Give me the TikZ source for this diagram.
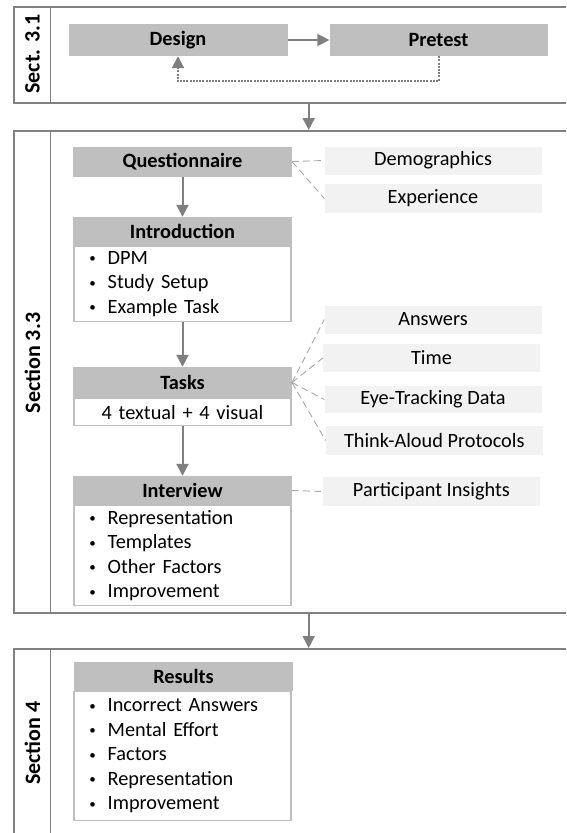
\documentclass[tikz,border=0pt]{standalone}
\usepackage{fontspec}
\setmainfont{Carlito}
\usetikzlibrary{arrows.meta}
\definecolor{hdr}{HTML}{BFBFBF}
\definecolor{lite}{HTML}{F2F2F2}
\definecolor{pan}{HTML}{808080}
\definecolor{arrc}{HTML}{7F7F7F}
\definecolor{bodyline}{HTML}{BFBFBF}
\definecolor{dashc}{HTML}{A6A6A6}
\newcommand\myitem[1]{\hspace*{15.4pt}\makebox[18.3pt][l]{\raisebox{1.6pt}{\fontsize{13}{13}\selectfont\textbullet}}#1}
\tikzset{
  panel/.style={draw=pan, line width=1.6pt, inner sep=0pt, anchor=north west},
  seclabel/.style={font=\fontsize{22}{26}\selectfont\bfseries, rotate=90, inner sep=0pt},
  hdrbox/.style={fill=hdr, inner sep=0pt, minimum width=218.5pt, minimum height=30pt, font=\fontsize{20.3}{24.5}\selectfont\bfseries},
  bodybox/.style={draw=bodyline, line width=1.2pt, fill=white, inner sep=0pt, minimum width=217pt, text width=217pt, anchor=north, align=left, font=\fontsize{20.3}{24.5}\selectfont},
  litebox/.style={fill=lite, inner sep=0pt, minimum width=217pt, minimum height=28pt, font=\fontsize{20.3}{24.5}\selectfont},
  flow/.style={draw=arrc, line width=2pt, -{Triangle[length=12pt,width=12pt]}},
  feedback/.style={draw=arrc, line width=2pt, dash pattern=on 2pt off 1.2pt, -{Triangle[length=12pt,width=12pt]}},
  dashlink/.style={draw=dashc, line width=0.9pt, dash pattern=on 7pt off 4pt}
}
\begin{document}
\begin{tikzpicture}[x=1pt,y=-1pt]
\useasboundingbox (0,0) rectangle (566,833);
\clip (0,0) rectangle (566,833);
\fill[white] (0,0) rectangle (566,833);

% panels
\node[panel, minimum width=580pt, minimum height=96pt] (p1) at (13,6) {};
\node[panel, minimum width=36.5pt, minimum height=96pt] (l1) at (13,6) {};
\node[panel, minimum width=580pt, minimum height=482pt] (p2) at (13,130) {};
\node[panel, minimum width=36.5pt, minimum height=482pt] (l2) at (13,130) {};
\node[panel, minimum width=580pt, minimum height=210pt] (p3) at (13,648) {};
\node[panel, minimum width=36.5pt, minimum height=210pt] (l3) at (13,648) {};

\node[seclabel] (s1) at (32.5,54) {Sect. 3.1};
\node[seclabel] (s2) at (32.5,363) {Section 3.3};
\node[seclabel] (s3) at (32.5,743) {Section 4};

% section 3.1
\node[hdrbox, minimum width=219pt, minimum height=32pt] (design) at (178,40) {Design};
\node[hdrbox, minimum width=218pt, minimum height=32pt] (pretest) at (438.5,40) {Pretest};
\draw[flow] (design.east) -- (pretest.west);
\draw[feedback] (pretest.south) -- ++(0,25) -| (design.south);

\coordinate (c1a) at (308.7,102);
\coordinate (c1b) at (308.7,130);
\draw[flow] (c1a) -- (c1b);

% section 3.3
\node[hdrbox] (quest) at (182.5,161.5) {Questionnaire};
\node[litebox] (demo) at (433,160.5) {Demographics};
\node[litebox, minimum height=29pt] (exper) at (433,198.5) {Experience};

\node[hdrbox, minimum height=29pt] (introh) at (182.5,231.5) {Introduction};
\node[bodybox, minimum height=75pt] (introb) at (182.5,246) {\myitem{DPM}\\\myitem{Study Setup}\\\myitem{Example Task}};

\node[litebox] (answ) at (433,319.5) {Answers};
\node[litebox] (time) at (431.5,358) {Time};
\node[litebox, minimum height=27pt] (eye) at (433,399.5) {Eye-Tracking Data};
\node[litebox, minimum height=29pt] (think) at (434.3,440.5) {Think-Aloud Protocols};

\node[hdrbox, minimum height=31pt] (tasksh) at (182.5,382.5) {Tasks};
\node[bodybox, minimum height=27pt, align=center] (tasksb) at (182.5,398) {4 textual + 4 visual};

\node[hdrbox, minimum height=29pt] (interh) at (182.5,490.5) {Interview};
\node[bodybox, minimum height=100pt] (interb) at (182.5,505) {\myitem{Representation}\\\myitem{Templates}\\\myitem{Other Factors}\\\myitem{Improvement}};
\node[litebox, minimum height=29pt] (partins) at (431.4,491.5) {Participant Insights};

\draw[flow] (quest.south) -- (introh.north);
\draw[flow] (introb.south) -- (tasksh.north);
\draw[flow] (tasksb.south) -- (interh.north);

\draw[dashlink] (quest.east) -- (demo.west);
\draw[dashlink] (quest.east) -- (exper.west);
\draw[dashlink] (tasksh.east) -- (answ.west);
\draw[dashlink] (tasksh.east) -- (time.west);
\draw[dashlink] (tasksh.east) -- (eye.west);
\draw[dashlink] (tasksh.east) -- (think.west);
\draw[dashlink] (interh.east) -- (partins.west);

\coordinate (c2a) at (308.7,612);
\coordinate (c2b) at (308.7,648);
\draw[flow] (c2a) -- (c2b);

% section 4
\node[hdrbox, minimum width=219pt, minimum height=29pt] (resh) at (183.5,676.5) {Results};
\node[bodybox, minimum height=129pt] (resb) at (182.5,691) {\myitem{Incorrect Answers}\\\myitem{Mental Effort}\\\myitem{Factors}\\\myitem{Representation}\\\myitem{Improvement}};
\end{tikzpicture}
\end{document}
